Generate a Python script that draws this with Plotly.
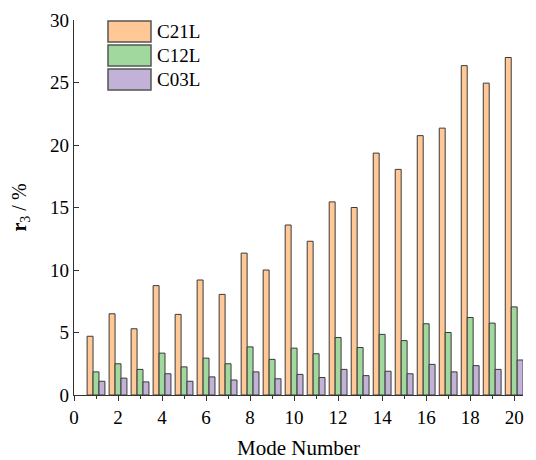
import plotly.graph_objects as go

modes = list(range(1, 21))
c21l = [4.7, 6.5, 5.3, 8.75, 6.45, 9.2, 8.05, 11.35, 10.0, 13.6,
        12.3, 15.45, 15.0, 19.35, 18.05, 20.75, 21.35, 26.35, 24.95, 27.0]
c12l = [1.85, 2.5, 2.05, 3.35, 2.25, 2.95, 2.5, 3.85, 2.85, 3.75,
        3.3, 4.6, 3.8, 4.85, 4.35, 5.7, 5.0, 6.2, 5.75, 7.05]
c03l = [1.1, 1.35, 1.05, 1.7, 1.1, 1.45, 1.2, 1.85, 1.3, 1.65,
        1.4, 2.05, 1.55, 1.9, 1.7, 2.45, 1.85, 2.35, 2.05, 2.8]
series_names = ["C21L", "C12L", "C03L"]
colors = ["#FFC896", "#A0D89E", "#C2B2D8"]

font = "Liberation Serif, Times New Roman, serif"
fig = go.Figure()
for name, vals, col in zip(series_names, [c21l, c12l, c03l], colors):
    fig.add_trace(go.Bar(x=modes, y=vals, name=name, marker_color=col,
                         marker_line_color="#3a3a3a", marker_line_width=1,
                         showlegend=False))

# manual legend (large swatches), positioned in paper coordinates
PH, PW = 375, 449
for i, (name, col) in enumerate(zip(series_names, colors)):
    y0 = 1 - (1 + i * 24) / PH
    y1 = y0 - 21 / PH
    x0 = (108 - 74) / PW
    x1 = (151 - 74) / PW
    fig.add_shape(type="rect", xref="paper", yref="paper", x0=x0, x1=x1, y0=y1, y1=y0,
                  fillcolor=col, line=dict(color="#555555", width=1.5))
    fig.add_annotation(xref="paper", yref="paper", x=(155 - 74) / PW, y=(y0 + y1) / 2,
                       text=name, showarrow=False, xanchor="left", yanchor="middle",
                       font=dict(family=font, size=19, color="black"))

fig.update_layout(
    width=528, height=452,
    margin=dict(l=66, r=13, t=12, b=65),
    paper_bgcolor="white", plot_bgcolor="white",
    barmode="group", bargap=0.19, bargroupgap=0,
    font=dict(family=font, size=19, color="black"),
    xaxis=dict(range=[0, 20.4], tickmode="linear", tick0=0, dtick=2,
               automargin=False,
               showline=True, linecolor="#333", linewidth=1.2,
               ticks="outside", ticklen=5, tickcolor="#333",
               tickfont=dict(size=19),
               minor=dict(ticks="outside", ticklen=3, dtick=1, tick0=0, tickcolor="#333"),
               showgrid=False, zeroline=False,
               title=dict(text="Mode Number", font=dict(size=21), standoff=17)),
    yaxis=dict(range=[0, 30], tickmode="linear", tick0=0, dtick=5,
               automargin=False,
               showline=True, linecolor="#333", linewidth=1.2,
               ticks="inside", ticklen=5, tickcolor="#333",
               tickfont=dict(size=19),
               showgrid=False, zeroline=False,
               title=dict(text="<b>r</b><sub>3</sub> / %", font=dict(size=20), standoff=21)),
)

fig.write_html("out.html")
